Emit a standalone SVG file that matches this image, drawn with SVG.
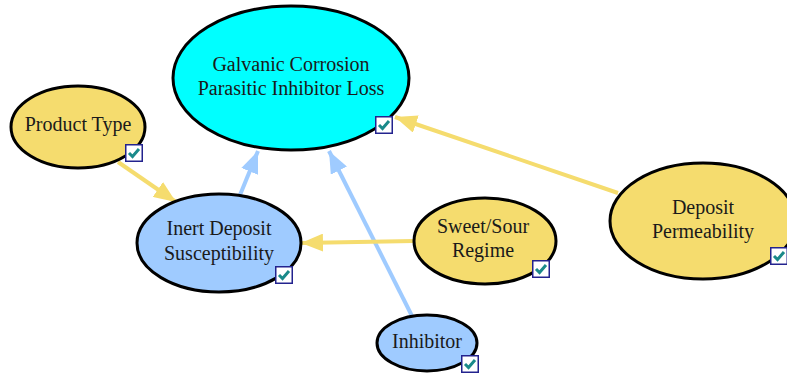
<svg xmlns="http://www.w3.org/2000/svg" width="787" height="377" viewBox="0 0 787 377">
  <defs>
    <marker id="ah-yellow" viewBox="0 0 22 18" refX="22" refY="9" markerWidth="22" markerHeight="18" markerUnits="userSpaceOnUse" orient="auto">
      <path d="M0,0 L22,9 L0,18 Z" fill="#f5dc6e"/>
    </marker>
    <marker id="ah-blue" viewBox="0 0 22 18" refX="22" refY="9" markerWidth="22" markerHeight="18" markerUnits="userSpaceOnUse" orient="auto">
      <path d="M0,0 L22,9 L0,18 Z" fill="#9fcbff"/>
    </marker>
    <g id="check">
      <rect x="0.75" y="0.75" width="16.5" height="16.5" fill="#ffffff" stroke="#23238e" stroke-width="1.5"/>
      <path d="M4,9 L7.5,12.5 L14,5" fill="none" stroke="#1a8a8a" stroke-width="3"/>
    </g>
  </defs>
  <style>
    .node { stroke: #000; stroke-width: 3; }
    .yellow { fill: #f5dc6e; }
    .blue { fill: #9fcbff; }
    .cyan { fill: #00ffff; }
    .lbl { font-family: "Liberation Serif", "Times New Roman", serif; font-size: 20px; fill: #1a1a1a; text-anchor: middle; }
    .e-y { stroke: #f5dc6e; stroke-width: 4; fill: none; marker-end: url(#ah-yellow); }
    .e-b { stroke: #9fcbff; stroke-width: 4; fill: none; marker-end: url(#ah-blue); }
  </style>

  <g id="connectors">
    <line class="e-y" x1="118" y1="162" x2="176" y2="202"/>
    <line class="e-b" x1="240" y1="195" x2="258" y2="151"/>
    <line class="e-b" x1="412" y1="316" x2="329" y2="151"/>
    <line class="e-y" x1="414" y1="241" x2="301" y2="243"/>
    <line class="e-y" x1="618" y1="193" x2="395" y2="117"/>
  </g>

  <g id="galvanic-corrosion">
    <ellipse class="node cyan" cx="291" cy="78" rx="118" ry="72"/>
    <text class="lbl" x="291" y="71">Galvanic Corrosion</text>
    <text class="lbl" x="291" y="95">Parasitic Inhibitor Loss</text>
    <use href="#check" x="375" y="116"/>
  </g>

  <g id="product-type">
    <ellipse class="node yellow" cx="78" cy="127" rx="67" ry="41"/>
    <text class="lbl" x="78" y="131">Product Type</text>
    <use href="#check" x="125" y="144"/>
  </g>

  <g id="inert-deposit">
    <ellipse class="node blue" cx="219" cy="243" rx="82" ry="49"/>
    <text class="lbl" x="219" y="235">Inert Deposit</text>
    <text class="lbl" x="219" y="260">Susceptibility</text>
    <use href="#check" x="275" y="266"/>
  </g>

  <g id="sweet-sour">
    <ellipse class="node yellow" cx="485" cy="241" rx="71" ry="43"/>
    <text class="lbl" x="483" y="233">Sweet/Sour</text>
    <text class="lbl" x="483" y="257">Regime</text>
    <use href="#check" x="532" y="260"/>
  </g>

  <g id="deposit-permeability">
    <ellipse class="node yellow" cx="703" cy="221" rx="93" ry="58"/>
    <text class="lbl" x="703" y="214">Deposit</text>
    <text class="lbl" x="703" y="238">Permeability</text>
    <use href="#check" x="770" y="247"/>
  </g>

  <g id="inhibitor">
    <ellipse class="node blue" cx="427" cy="343" rx="50" ry="28"/>
    <text class="lbl" x="427" y="348">Inhibitor</text>
    <use href="#check" x="461" y="355"/>
  </g>
</svg>
